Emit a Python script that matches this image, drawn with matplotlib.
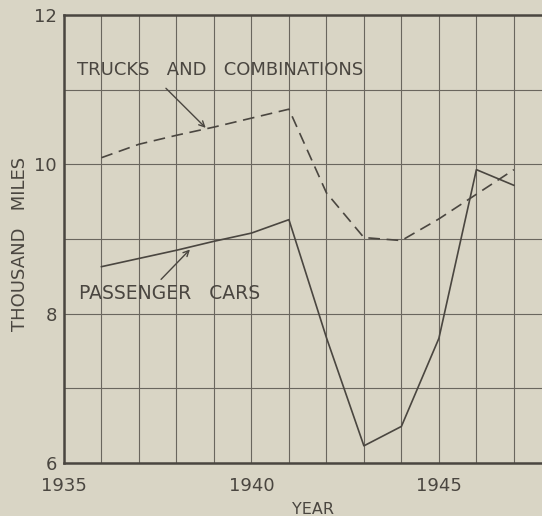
import matplotlib
matplotlib.use("Agg")
import matplotlib.pyplot as plt
from matplotlib.ticker import MultipleLocator

YEARS = [1936, 1937, 1938, 1939, 1940, 1941, 1942, 1943, 1944, 1945, 1946, 1947]
TRUCKS = [10.09, 10.27, 10.39, 10.50, 10.62, 10.74, 9.62, 9.02, 8.98, 9.27, 9.60, 9.93]
CARS = [8.63, 8.74, 8.85, 8.97, 9.08, 9.26, 7.68, 6.23, 6.49, 7.67, 9.93, 9.72]

X_TICKS = [1935, 1940, 1945]
Y_TICKS = [6, 8, 10, 12]

BG = "#d9d5c5"
INK = "#4a4640"
GRID = "#6a665e"

plt.rcParams["font.family"] = ["DejaVu Sans"]

fig = plt.figure(figsize=(5.42, 5.16), dpi=100, facecolor=BG)
ax = fig.add_axes([0.118, 0.1027, 0.882, 0.868], facecolor=BG)

ax.plot(YEARS, TRUCKS, color=INK, lw=1.2, dashes=(7, 4))
ax.plot(YEARS, CARS, color=INK, lw=1.2)

ax.set_xlim(1935, 1947.75)
ax.set_ylim(6, 12)
ax.set_xticks(X_TICKS)
ax.set_yticks(Y_TICKS)
ax.xaxis.set_minor_locator(MultipleLocator(1))
ax.yaxis.set_minor_locator(MultipleLocator(1))
ax.grid(which="both", color=GRID, lw=0.8)
ax.tick_params(which="both", length=0, colors=INK, labelsize=13)
ax.tick_params(axis="y", pad=5)
ax.tick_params(axis="x", pad=10)

for side in ["left", "bottom", "top"]:
    ax.spines[side].set_color(INK)
    ax.spines[side].set_linewidth(1.8)
ax.spines["right"].set_visible(False)

ax.set_ylabel("THOUSAND   MILES", color=INK, fontsize=13)
ax.yaxis.set_label_coords(-0.073, 0.49)
ax.set_xlabel("YEAR", color=INK, fontsize=11.5, va="top")
ax.xaxis.set_label_coords(0.52, -0.087)

ax.text(1935.35, 11.26, "TRUCKS   AND   COMBINATIONS", color=INK, fontsize=13,
        va="center", ha="left")
ax.annotate("", xy=(1938.78, 10.49), xytext=(1937.72, 11.02),
            arrowprops=dict(arrowstyle="->", color=INK, lw=1.0, shrinkA=0, shrinkB=0))

ax.text(1935.4, 8.27, "PASSENGER   CARS", color=INK, fontsize=13.5,
        va="center", ha="left")
ax.annotate("", xy=(1938.36, 8.86), xytext=(1937.59, 8.46),
            arrowprops=dict(arrowstyle="->", color=INK, lw=1.0, shrinkA=0, shrinkB=0))

fig.savefig("out.png", dpi=100, facecolor=BG)
